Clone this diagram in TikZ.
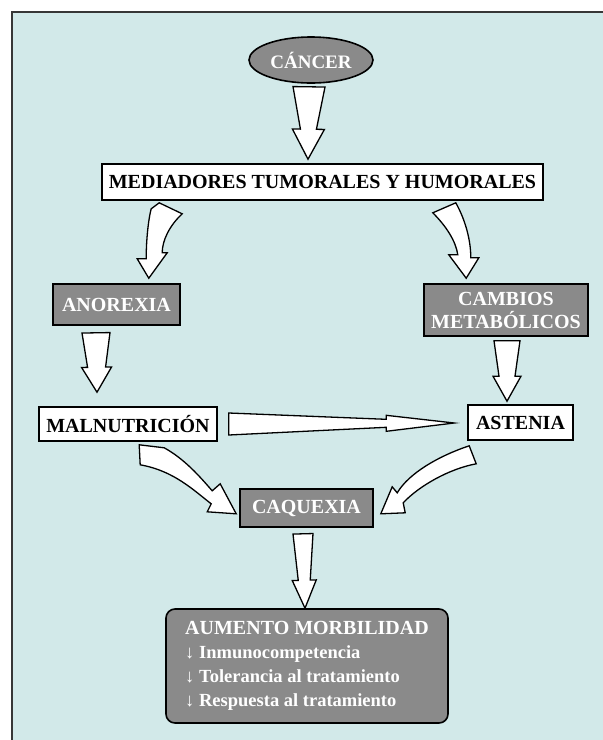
\documentclass[tikz,border=0pt]{standalone}
\usepackage{fontspec}
\setmainfont{Liberation Serif}
\usetikzlibrary{calc,shapes.geometric}

\definecolor{panel}{RGB}{210,233,233}
\definecolor{boxgray}{RGB}{138,138,138}
\definecolor{framegray}{RGB}{55,55,55}

\tikzset{
  lbl/.style={font=\fontsize{20}{24}\selectfont\bfseries, inner sep=0pt, align=center},
  whitebox/.style={lbl, rectangle, draw=black, line width=1.6pt, fill=white, text=black},
  graybox/.style={lbl, rectangle, draw=black, line width=1.6pt, fill=boxgray, text=white},
  fatarrow/.style={draw=black, fill=white, line width=1.3pt, line join=miter},
}

% straight block arrow: tail, tip, tail half width, neck half width, head half width, head length
\newcommand\blockarrow[6]{%
  \coordinate (ba-n) at ($(#2)!#6!(#1)$);
  \draw[fatarrow] ($(#1)!#3!90:(#2)$) -- ($(ba-n)!#4!90:(#2)$) -- ($(ba-n)!#5!90:(#2)$)
    -- (#2) -- ($(ba-n)!#5!-90:(#2)$) -- ($(ba-n)!#4!-90:(#2)$) -- ($(#1)!#3!-90:(#2)$) -- cycle;}

\begin{document}
\begin{tikzpicture}[x=1pt, y=-1pt]
  \useasboundingbox (0,0) rectangle (603,740);
  \fill[white] (0,0) rectangle (603,740);
  \fill[panel] (12,12) rectangle (603,740);
  \draw[framegray, line width=2pt] (12,740) -- (12,12) -- (603,12);

  % boxes
  \node[ellipse, draw=black, line width=1.6pt, fill=boxgray, text=white, inner sep=0pt,
        minimum width=124pt, minimum height=46pt, font=\fontsize{19}{22}\selectfont\bfseries]
        (cancer) at (311,60) {CÁNCER};
  \node[whitebox, minimum width=441pt, minimum height=36pt] (med) at (322.5,182)
        {MEDIADORES TUMORALES Y HUMORALES};
  \node[graybox, minimum width=127pt, minimum height=41pt] (ano) at (116.5,304.5) {ANOREXIA};
  \node[graybox, minimum width=164pt, minimum height=52pt, font=\fontsize{20}{23}\selectfont\bfseries]
        (camb) at (506,310) {CAMBIOS\\METABÓLICOS};
  \node[whitebox, minimum width=178pt, minimum height=34pt] (maln) at (128,424) {MALNUTRICIÓN};
  \node[whitebox, minimum width=105pt, minimum height=35pt] (ast) at (520.5,422.5) {ASTENIA};
  \node[graybox, minimum width=133pt, minimum height=38pt] (caq) at (306.5,508) {CAQUEXIA};
  \node[graybox, rounded corners=9pt, align=left, minimum width=282pt, minimum height=114pt]
        (bot) at (307,666)
        {AUMENTO MORBILIDAD\\
         {\fontsize{18.5}{24}\selectfont ↓ Inmunocompetencia}\\
         {\fontsize{18.5}{24}\selectfont ↓ Tolerancia al tratamiento}\\
         {\fontsize{18.5}{24}\selectfont ↓ Respuesta al tratamiento}};

  % straight arrows
  \coordinate (a1t) at ($(cancer.south)+(-2,3)$);
  \coordinate (a1h) at ($(med.north)+(-14.5,-4)$);
  \blockarrow{a1t}{a1h}{16pt}{8pt}{16pt}{30pt}

  \coordinate (a4t) at ($(ano.south)+(-20.5,7)$);
  \coordinate (a4h) at ($(maln.north)+(-31,-14)$);
  \blockarrow{a4t}{a4h}{14pt}{9pt}{15pt}{25pt}

  \coordinate (a5t) at ($(camb.south)+(1,4)$);
  \coordinate (a5h) at ($(ast.north)+(-13.5,-3)$);
  \blockarrow{a5t}{a5h}{13pt}{8pt}{14pt}{25pt}

  \coordinate (a6t) at ($(maln.east)+(11,0)$);
  \coordinate (a6h) at ($(ast.west)+(-13,0.5)$);
  \blockarrow{a6t}{a6h}{11pt}{4pt}{8pt}{68pt}

  \coordinate (a9t) at ($(caq.south)+(-3.5,6)$);
  \coordinate (a9h) at ($(bot.north)+(-2,0)$);
  \blockarrow{a9t}{a9h}{10pt}{6pt}{12pt}{28pt}

  % curved arrows
  \begin{scope}[shift={(med.south west)}]
    \draw[fatarrow] (58,2) -- (81,13) .. controls (68,25) and (61,40) .. (61,52) -- (66,52)
      -- ($(ano.north east)+(-32,-5)$) -- (36,58) -- (45,58)
      .. controls (45,35) and (48,15) .. (50,8) -- cycle;
  \end{scope}
  \begin{scope}[shift={(med.south east)}]
    \draw[fatarrow] (-111,12) -- (-88,2) .. controls (-78,20) and (-73,40) .. (-73,57) -- (-65,57)
      -- ($(camb.north west)+(43,-5)$) -- (-95,54) -- (-86,54)
      .. controls (-88,40) and (-98,25) .. cycle;
  \end{scope}
  \begin{scope}[shift={(maln.south west)}]
    \draw[fatarrow] (101,3) -- (126,6) .. controls (146,17) and (161,34) .. (174,49) -- (182,42)
      -- ($(caq.south west)+(-3,-14)$) -- (169,70) -- (173,62)
      .. controls (156,49) and (136,29) .. (102,23) -- cycle;
  \end{scope}
  \begin{scope}[shift={(ast.south west)}]
    \draw[fatarrow] (2,5) -- (9,23) .. controls (-18,28) and (-48,45) .. (-64,62) -- (-62,72)
      -- ($(caq.south east)+(7,-14)$) -- (-75,46) -- (-70,52)
      .. controls (-58,32) and (-28,15) .. cycle;
  \end{scope}
\end{tikzpicture}
\end{document}
